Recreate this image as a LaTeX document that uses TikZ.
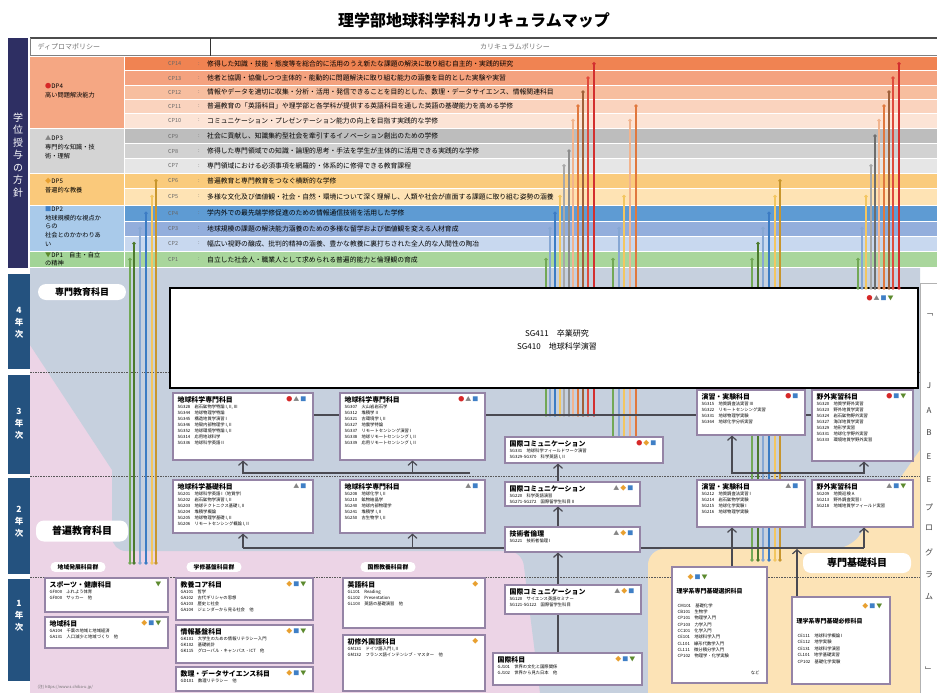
\documentclass[tikz,border=0pt]{standalone}
\usepackage{fontspec}
\setmainfont{Noto Sans CJK JP}
\usetikzlibrary{fit,arrows.meta}
\definecolor{navy}{HTML}{2E2F63}
\definecolor{yearblue}{HTML}{24527F}
\definecolor{cp14}{HTML}{F08352}
\definecolor{cp13}{HTML}{F4A27F}
\definecolor{cp12}{HTML}{F7BE9F}
\definecolor{cp11}{HTML}{FAD3BE}
\definecolor{cp10}{HTML}{FCE4D6}
\definecolor{dp4}{HTML}{F5A783}
\definecolor{cp9}{HTML}{BDBDBD}
\definecolor{cp8}{HTML}{D2D2D2}
\definecolor{cp7}{HTML}{E6E6E6}
\definecolor{dp3}{HTML}{D4D4D4}
\definecolor{cp6}{HTML}{FACB7C}
\definecolor{cp5}{HTML}{FEE3B4}
\definecolor{dp5}{HTML}{FAC97B}
\definecolor{cp4}{HTML}{5E9BD3}
\definecolor{cp3}{HTML}{93AEDC}
\definecolor{cp2}{HTML}{C8D8EF}
\definecolor{dp2}{HTML}{A9CAEA}
\definecolor{cp1}{HTML}{A9D69C}
\definecolor{dp1}{HTML}{A2D497}
\definecolor{l14}{HTML}{D32F2F}
\definecolor{l13}{HTML}{E04A3C}
\definecolor{l12}{HTML}{A0603A}
\definecolor{l11}{HTML}{E0783E}
\definecolor{l10}{HTML}{F2B48E}
\definecolor{l9}{HTML}{6E6E6E}
\definecolor{l8}{HTML}{8E8E8E}
\definecolor{l7}{HTML}{A8A8A8}
\definecolor{l6}{HTML}{C8962E}
\definecolor{l5}{HTML}{F3C660}
\definecolor{l4}{HTML}{3C7CC4}
\definecolor{l3}{HTML}{86A7D4}
\definecolor{l2}{HTML}{4C7A2C}
\definecolor{l1}{HTML}{72A856}
\definecolor{bgblue}{HTML}{C6D0DE}
\definecolor{bgpink}{HTML}{ECD4E6}
\definecolor{bgpeach}{HTML}{FCE3B6}
\definecolor{boxline}{HTML}{9584A6}
\definecolor{arrowgray}{HTML}{4A4A52}
\definecolor{sred}{HTML}{D62828}
\definecolor{sgray}{HTML}{858585}
\definecolor{sblue}{HTML}{3F7FC6}
\definecolor{sgreen}{HTML}{5C8A2E}
\definecolor{sorange}{HTML}{E8A030}
\newcommand{\fs}[2]{\fontsize{#1}{#2}\selectfont}
\newcommand{\sC}{\textcolor{sred}{●}}
\newcommand{\sT}{\textcolor{sgray}{▲}}
\newcommand{\sD}{\textcolor{sorange}{◆}}
\newcommand{\sS}{\textcolor{sblue}{■}}
\newcommand{\sV}{\textcolor{sgreen}{▼}}
\tikzset{
 cbox/.style={draw=boxline, line width=1.1pt, fill=white, inner sep=0pt},
 btitle/.style={font=\fs{6.9}{8}\bfseries, inner sep=0pt},
 bline/.style={font=\fs{4.3}{6.1}, align=left, inner sep=0pt},
 bsym/.style={font=\fs{6}{7}, inner sep=0pt},
 lol/.style={line width=1.4pt},
 conn/.style={draw=arrowgray, line width=1.4pt},
 arr/.style={draw=arrowgray, line width=1.4pt, -{Straight Barb[length=4pt,width=9pt,line width=1.2pt]}},
 yeardash/.style={draw=gray!70!black, line width=0.9pt, dash pattern=on 1.6pt off 1pt},
 cplab/.style={font=\fs{5.5}{6}, text=black!60, inner sep=0pt, anchor=west},
 cptext/.style={font=\fs{6.8}{7}, inner sep=0pt, anchor=west},
 dptext/.style={font=\fs{6.2}{9.2}, align=left, inner sep=0pt, anchor=north west},
 yeartext/.style={text=white, font=\fs{8.5}{12}\bfseries, align=center},
 biglab/.style={fill=white, rounded corners=8pt, font=\fs{10}{12}\bfseries},
 sublab/.style={fill=white, rounded corners=4pt, font=\fs{5.8}{7}\bfseries, inner xsep=7pt, inner ysep=2pt},
 jab/.style={font=\fs{8}{9}, text=black!75},
}
\newcommand{\crs}[8]{%
  \node[cbox, fit={(#2,#3)(#4,#5)}] (#1) {};
  \node[btitle, anchor=north west] (#1t) at ([shift={(5,3.5)}]#1.north west) {#6};
  \node[bsym, anchor=north east] (#1s) at ([shift={(-7,4)}]#1.north east) {#7};
  \node[bline, anchor=north west] (#1l) at ([shift={(5,12)}]#1.north west) {#8};
}
\newcommand{\cprow}[6]{%
  \fill[#4] (125,#2) rectangle (937,#3);
  \node[cplab] (#1) at (168,{(#2+#3)/2}) {#5};
  \node[cplab] (#1c) at (198,{(#2+#3)/2}) {:};
  \node[cptext] (#1t) at (207,{(#2+#3)/2}) {#6};
}
\newcommand{\lol}[4]{%
  \draw[lol,#3] (#1,0 |- #2) -- (#1,0 |- #4);
  \fill[#3] (#1,0 |- #2) circle (1.8pt);
  \fill[#3] (#1,0 |- #4) circle (1.8pt);
}
\begin{document}
\begin{tikzpicture}[x=1pt,y=-1pt]
\useasboundingbox (0,0) rectangle (937,693);
\fill[white] (0,0) rectangle (937,693);
% title
\node[font=\fs{16}{18}\bfseries] (title) at (474,20) {理学部地球科学科カリキュラムマップ};
% left navy bar
\fill[navy] (8,38) rectangle (28,268);
\node[text=white, font=\fs{10}{12.5}, align=center] (gakui) at (18,155) {学\\位\\授\\与\\の\\方\\針};
% header
\draw[line width=1.8pt, gray!60!black] (30,38) -- (937,38);
\draw[gray] (30,55.5) -- (937,55.5);
\draw[gray] (30,38) -- (30,56);
\draw[line width=1pt, gray!40!black] (210,38) -- (210,56);
\node[font=\fs{7}{8}, text=black!55, anchor=west] (hdp) at (34,47) {ディプロマポリシー};
\node[font=\fs{7}{8}, text=black!55] (hcp) at (515,47) {カリキュラムポリシー};
% CP rows
\cprow{cp14}{57}{70.5}{cp14}{CP14}{修得した知識・技能・態度等を総合的に活用のうえ新たな課題の解決に取り組む自主的・実践的研究}
\cprow{cp13}{71.5}{84.5}{cp13}{CP13}{他者と協調・協働しつつ主体的・能動的に問題解決に取り組む能力の涵養を目的とした実験や実習}
\cprow{cp12}{85.5}{98.5}{cp12}{CP12}{情報やデータを適切に収集・分析・活用・発信できることを目的とした、数理・データサイエンス、情報関連科目}
\cprow{cp11}{99.5}{112.5}{cp11}{CP11}{普遍教育の「英語科目」や理学部と各学科が提供する英語科目を通した英語の基礎能力を高める学修}
\cprow{cp10}{113.5}{127.5}{cp10}{CP10}{コミュニケーション・プレゼンテーション能力の向上を目指す実践的な学修}
\cprow{cp9}{129}{143}{cp9}{CP9}{社会に貢献し、知識集約型社会を牽引するイノベーション創出のための学修}
\cprow{cp8}{144}{158}{cp8}{CP8}{修得した専門領域での知識・論理的思考・手法を学生が主体的に活用できる実践的な学修}
\cprow{cp7}{159}{172.5}{cp7}{CP7}{専門領域における必須事項を網羅的・体系的に修得できる教育課程}
\cprow{cp6}{174}{187.5}{cp6}{CP6}{普遍教育と専門教育をつなぐ横断的な学修}
\cprow{cp5}{188.5}{204.5}{cp5}{CP5}{多様な文化及び価値観・社会・自然・環境について深く理解し、人類や社会が直面する課題に取り組む姿勢の涵養}
\cprow{cp4}{206}{220.5}{cp4}{CP4}{学内外での最先端学修促進のための情報通信技術を活用した学修}
\cprow{cp3}{221.5}{235.5}{cp3}{CP3}{地球規模の課題の解決能力涵養のための多様な留学および価値観を変える人材育成}
\cprow{cp2}{236.5}{250.5}{cp2}{CP2}{幅広い視野の醸成、批判的精神の涵養、豊かな教養に裏打ちされた全人的な人間性の陶冶}
\cprow{cp1}{252}{267}{cp1}{CP1}{自立した社会人・職業人として求められる普遍的能力と倫理観の育成}
% DP blocks
\fill[dp4] (30,57) rectangle (124,127.5);
\node[dptext] (dp4) at (45,83) {\textcolor{sred}{●}DP4\\高い問題解決能力};
\fill[dp3] (30,129) rectangle (124,172.5);
\node[dptext] (dp3) at (45,135) {\textcolor{sgray}{▲}DP3\\専門的な知識・技\\術・理解};
\fill[dp5] (30,174) rectangle (124,204.5);
\node[dptext] (dp5) at (45,178) {\textcolor{sorange}{◆}DP5\\普遍的な教養};
\fill[dp2] (30,206) rectangle (124,250.5);
\node[dptext, font=\fs{6.2}{8.7}] (dp2) at (45,206.5) {\textcolor{sblue}{■}DP2\\地球規模的な視点か\\らの\\社会とのかかわりあ\\い};
\fill[dp1] (30,252) rectangle (124,267);
\node[dptext, font=\fs{6.2}{7.5}] (dp1) at (45,252.5) {\textcolor{sgreen}{▼}DP1\quad 自主・自立\\の精神};
% lower background
\fill[bgpink] (30,268) rectangle (920,693);
\fill[bgblue] (30,268) -- (920,268) -- (920,693) -- (540,693) [rounded corners=14pt] -- (522,551) -- (112,551) [sharp corners] -- (112,470) -- (30,345) -- cycle;
\fill[bgpeach] (920,693) -- (648,693) [rounded corners=16pt] -- (648,549) -- (850,549) [sharp corners] -- (920,450) -- cycle;
% year columns
\fill[yearblue] (8,274) rectangle (30,369);
\node[yeartext] (yr4) at (19,323) {4\\年\\次};
\fill[yearblue] (8,375) rectangle (30,474);
\node[yeartext] (yr3) at (19,424) {3\\年\\次};
\fill[yearblue] (8,478) rectangle (30,574);
\node[yeartext] (yr2) at (19,522) {2\\年\\次};
\fill[yearblue] (8,579) rectangle (30,681);
\node[yeartext] (yr1) at (19,616) {1\\年\\次};
% year separators
\draw[yeardash] (30,372) -- (920,372);
\draw[yeardash] (30,476.5) -- (920,476.5);
\draw[yeardash] (30,577) -- (920,577);
% end coordinates of CP connectors
\coordinate (endA) at (0,563);
\coordinate (endB) at (0,415);
\coordinate (endC) at (0,437);
\coordinate (endD) at (0,560);
\coordinate (endE) at (0,288);
% group A
\lol{130}{cp1}{l1}{endA}\lol{134}{cp2}{l2}{endA}\lol{140}{cp3}{l3}{endA}
\lol{146}{cp4}{l4}{endA}\lol{152}{cp5}{l5}{endA}\lol{156}{cp6}{l6}{endA}
% group B
\lol{546}{cp1}{l1}{endB}\lol{550}{cp3}{l3}{endB}\lol{555}{cp4}{l4}{endB}
\lol{560}{cp5}{l5}{endB}\lol{564}{cp7}{l7}{endB}\lol{569}{cp8}{l8}{endB}
\lol{573}{cp10}{l10}{endB}\lol{578}{cp11}{l11}{endB}\lol{583}{cp12}{l12}{endB}
\lol{588}{cp13}{l13}{endB}\lol{594}{cp14}{l14}{endB}
% group C
\lol{613}{cp1}{l1}{endC}\lol{619}{cp3}{l3}{endC}\lol{624}{cp5}{l5}{endC}
\lol{630}{cp10}{l10}{endC}\lol{636}{cp11}{l11}{endC}
% group D
\lol{752}{cp1}{l1}{endD}\lol{758}{cp2}{l2}{endD}\lol{763}{cp3}{l3}{endD}
\lol{769}{cp4}{l4}{endD}\lol{775}{cp5}{l5}{endD}\lol{780}{cp6}{l6}{endD}
% group E
\lol{858}{cp1}{l1}{endE}\lol{862}{cp3}{l3}{endE}\lol{866}{cp5}{l5}{endE}
\lol{871}{cp7}{l7}{endE}\lol{875}{cp9}{l9}{endE}\lol{879}{cp10}{l10}{endE}
\lol{884}{cp11}{l11}{endE}\lol{889}{cp12}{l12}{endE}\lol{893}{cp13}{l13}{endE}
\lol{899}{cp14}{l14}{endE}
% 4th year
\node[fit={(170,288)(918,388)}, inner sep=0pt, draw=black, line width=1.5pt, fill=white] (y4) {};
\foreach \xx/\cc in {858/l1,862/l3,866/l5,871/l7,875/l9,879/l10,884/l11,889/l12,893/l13,899/l14}
  {\fill[\cc] (\xx,0 |- endE) circle (1.8pt);}
\node[font=\fs{8}{13}, align=center] (y4t) at (557,340) {SG411\quad 卒業研究\\SG410\quad 地球科学演習};
\node[bsym] (y4s) at (880,298) {\sC\,\sT\,\sS\,\sV};
% JABEE column
\node[fit={(920,283)(940,693)}, inner sep=0pt, draw=gray!60, fill=white] (jabee) {};
\foreach \c/\yy [count=\i] in {﹁/315, J/386, A/411, B/433, E/457, E/480, プ/507, ロ/528, グ/552, ラ/575, ム/597, ﹂/670}
  {\node[jab] (jab\i) at (929,\yy) {\c};}
% helper x positions
\coordinate (xc) at (558,0);
\coordinate (xd) at (732,0);
\coordinate (xe) at (864,0);
\coordinate (xr) at (797,0);
\coordinate (h3end) at (470,473);
% 3rd year boxes
\crs{b3a}{173}{393}{313}{460}{地球科学専門科目}{\sC\,\sT\,\sS}{SG328\quad 岩石鉱物学特論 I, II, III\\SG344\quad 地球物理学特論\\SG345\quad 構造地質学演習 I\\SG346\quad 地殻内部物理学 I, II\\SG352\quad 地球環境学特論 I, II\\SG314\quad 応用地球科学\\SG336\quad 地球科学英語 II}
\crs{b3b}{340}{393}{485}{460}{地球科学専門科目}{\sC\,\sT\,\sS}{SG307\quad 火山岩岩石学\\SG312\quad 堆積学 II\\SG321\quad 古環境学 I, II\\SG327\quad 地震学特論\\SG337\quad リモートセンシング演習 I\\SG338\quad 地球リモートセンシング I, II\\SG339\quad 応用リモートセンシング I, II}
\crs{b3c}{505}{437}{663}{463}{国際コミュニケーション}{\sC\,\sD\,\sS}{SG331\quad 地球科学フィールドワーク演習\\SG329-SG370\quad 科学英語 I, II}
\crs{b3d}{697}{390}{805}{435}{演習・実験科目}{\sC\,\sS}{SG315\quad 地質調査法実習 III\\SG322\quad リモートセンシング実習\\SG331\quad 地球物理学実験\\SG364\quad 地球化学分析実習}
\crs{b3e}{812}{390}{913}{461}{野外実習科目}{\sC\,\sS\,\sV}{SG320\quad 地質学野外実習\\SG323\quad 野外地質学実習\\SG324\quad 岩石鉱物野外実習\\SG327\quad 海洋地質学実習\\SG329\quad 地形学実習\\SG331\quad 地球化学野外実習\\SG333\quad 環境地質学野外実習}
% 2nd year boxes
\crs{b2a}{173}{480}{313}{533}{地球科学基礎科目}{\sT\,\sS}{SG201\quad 地球科学英語 I（地質学）\\SG202\quad 岩石鉱物学演習 I, II\\SG203\quad 地球テクトニクス基礎 I, II\\SG204\quad 堆積学概論\\SG205\quad 地球物理学基礎 I, II\\SG206\quad リモートセンシング概論 I, II}
\crs{b2b}{340}{480}{485}{533}{地球科学専門科目}{\sT\,\sS}{SG208\quad 地球化学 I, II\\SG210\quad 鉱物結晶学\\SG240\quad 地球内部物理学\\SG241\quad 堆積学 I, II\\SG250\quad 古生物学 I, II}
\crs{b2c}{505}{482}{640}{506}{国際コミュニケーション}{\sT\,\sD\,\sS}{SG220\quad 科学英語演習\\SG271-SG272\quad 国際留学生科目 II}
\crs{b2d}{505}{527}{640}{552}{技術者倫理}{\sT\,\sD\,\sS}{SG221\quad 技術者倫理 I}
\crs{b2e}{697}{480}{805}{527}{演習・実験科目}{\sT\,\sS}{SG212\quad 地質調査法実習 I\\SG214\quad 岩石鉱物学実験\\SG215\quad 地球化学実験 I\\SG216\quad 地球物理学実験}
\crs{b2f}{812}{480}{913}{527}{野外実習科目}{\sT\,\sS\,\sV}{SG209\quad 地質巡検 A\\SG213\quad 野外調査実習 I\\SG218\quad 地域地質学フィールド実習}
% 1st year boxes
\crs{b1a}{45}{578}{168}{612}{スポーツ・健康科目}{\sV}{GF000\quad ふれよう体育\\GF000\quad サッカー\quad 他}
\crs{b1b}{45}{617}{168}{648}{地域科目}{\sD\,\sS\,\sV}{GA104\quad 千葉の地域と地域経済\\GA131\quad 人口減少と地域づくり\quad 他}
\crs{b1c}{176}{578}{313}{620}{教養コア科目}{\sD\,\sS\,\sV}{GA101\quad 哲学\\GA102\quad 古代ギリシャの思想\\GA103\quad 歴史と社会\\GA104\quad ジェンダーから見る社会\quad 他}
\crs{b1d}{176}{625}{313}{663}{情報基盤科目}{\sD\,\sS\,\sV}{GK101\quad 大学生のための情報リテラシー入門\\GK102\quad 基礎統計\\GK115\quad グローバル・キャンパス・ICT\quad 他}
\crs{b1e}{176}{667}{313}{691}{数理・データサイエンス科目}{\sD\,\sS\,\sV}{GD101\quad 数理リテラシー\quad 他}
\crs{b1f}{343}{578}{485}{628}{英語科目}{\sD}{GL101\quad Reading\\GL102\quad Presentation\\GL103\quad 英語の基礎演習\quad 他}
\crs{b1g}{343}{635}{485}{691}{初修外国語科目}{\sD}{GM131\quad ドイツ語入門 I, II\\GM132\quad フランス語インテンシブ・マスター\quad 他}
\crs{b1h}{505}{585}{641}{614}{国際コミュニケーション}{\sT\,\sD\,\sS}{SG120\quad サイエンス英語セミナー\\SG121-SG122\quad 国際留学生科目}
\crs{b1i}{493}{653}{642}{685}{国際科目}{\sD\,\sS\,\sV}{GJ101\quad 世界の文化と国際関係\\GJ102\quad 世界から見た日本\quad 他}
% science foundation boxes
\node[cbox, fit={(672,567)(767,683)}] (bsel) {};
\node[bsym, anchor=north west] (bsels) at ([shift={(16,8)}]bsel.north west) {\sD\,\sS\,\sV};
\node[btitle, font=\fs{6}{7}\bfseries, anchor=north west] (bselt) at ([shift={(5,22)}]bsel.north west) {理学系専門基礎選択科目};
\node[bline, font=\fs{4.3}{6.3}, anchor=north west] (bsell) at ([shift={(6,37)}]bsel.north west) {CM101\quad 基礎化学\\CB101\quad 生物学\\CP101\quad 物理学入門\\CP103\quad 力学入門\\CC101\quad 化学入門\\CE101\quad 地球科学入門\\CL101\quad 線形代数学入門\\CL111\quad 微分積分学入門\\CP102\quad 物理学・化学実験};
\node[bline, anchor=south east] (bseln) at ([shift={(-8,-9)}]bsel.south east) {など};
\node[cbox, fit={(792,597)(890,684)}] (breq) {};
\node[bsym, anchor=north east] (breqs) at ([shift={(-8,7)}]breq.north east) {\sD\,\sS\,\sV};
\node[btitle, font=\fs{6}{7}\bfseries, anchor=north west] (breqt) at ([shift={(5,22)}]breq.north west) {理学系専門基礎必修科目};
\node[bline, font=\fs{4.3}{6.5}, anchor=north west] (breql) at ([shift={(6,37)}]breq.north west) {CE111\quad 地球科学概論 I\\CE112\quad 地学実験\\CE131\quad 地球科学演習\\CL101\quad 地学基礎実習\\CP102\quad 基礎化学実験};
% connectors 3rd year
\draw[conn] (b3a.east |- 0,415) -- (b3b.west |- 0,415);
\draw[conn] (b3b.east |- 0,415) -- (b3d.west |- 0,415);
\draw[conn] (b3d.east |- 0,415) -- (b3e.west |- 0,415);
\draw[conn] (b2a.north |- 0,473) -- (h3end);
\draw[conn] (xd |- 0,473) -- (xe |- 0,473);
\draw[arr] (b2a.north |- 0,474) -- (b3a.south);
\draw[arr] (b2b.north |- 0,474) -- (b3b.south);
\draw[arr] (xc |- b2c.north) -- (xc |- b3c.south);
\draw[arr] (xd |- 0,474) -- (xd |- b3d.south);
\draw[arr] (xe |- 0,474) -- (xe |- b3e.south);
% connectors 1st -> 2nd year
\draw[conn] (b2a.south |- 0,548) -- (b2d.west |- 0,548);
\draw[conn] (b2d.east |- 0,548) -- (xe |- 0,548);
\draw[arr] (b2a.south |- 0,548) -- (b2a.south);
\draw[arr] (b2b.south |- 0,548) -- (b2b.south);
\draw[arr] (xe |- 0,548) -- (xe |- b2f.south);
\draw[arr] (xd |- bsel.north) -- (xd |- b2e.south);
\draw[arr] (xr |- breq.north) -- (xr |- 0,549);
\draw[conn] (xc |- b1i.north) -- (xc |- b1h.south);
\draw[arr] (xc |- b1h.north) -- (xc |- b2d.south);
\draw[arr] (xc |- b2d.north) -- (xc |- b2c.south);
% labels
\node[biglab, font=\fs{9}{11}\bfseries, minimum width=88pt, minimum height=16pt] (lsenmon) at (82,292) {専門教育科目};
\node[biglab, minimum width=92pt, minimum height=21pt] (lfuhen) at (82,531) {普遍教育科目};
\node[biglab, minimum width=108pt, minimum height=20pt] (lkiso) at (857,563) {専門基礎科目};
\node[sublab] (lchiiki) at (78,567) {地域発展科目群};
\node[sublab] (lgaku) at (214,567) {学修基盤科目群};
\node[sublab] (lkoku) at (388,567) {国際教養科目群};
\node[font=\fs{4}{5}, text=black!55, anchor=west] (foot) at (34,687) {(注) https://www.s.chiba-u.jp/};
\end{tikzpicture}
\end{document}
